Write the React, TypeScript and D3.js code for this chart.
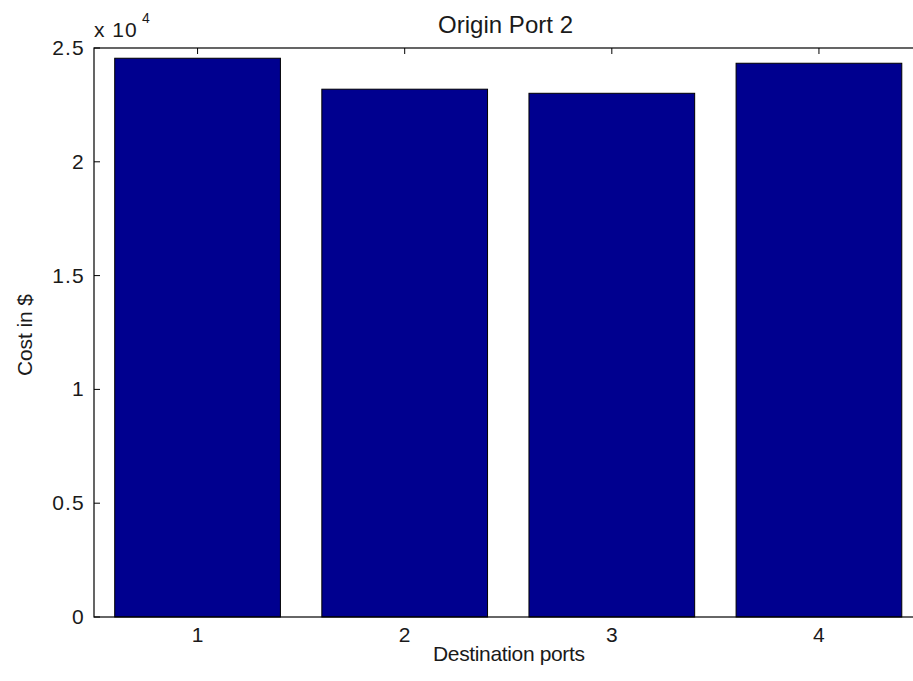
import React from "react";
import * as d3 from "d3";

const categories = [1, 2, 3, 4];
const costs = [24550, 23190, 23010, 24330];
const yTicks = [0, 5000, 10000, 15000, 20000, 25000];
const yTickLabels = ["0", "0.5", "1", "1.5", "2", "2.5"];
const titleText = "Origin Port 2";
const xLabelText = "Destination ports";
const yLabelText = "Cost in $";

const W = 913;
const H = 681;
const FONT = "'Liberation Sans', Arial, sans-serif";

export default function App() {
  const x = d3.scaleLinear().domain([0.5, 4.5]).range([94, 922.5]);
  const y = d3.scaleLinear().domain([0, 25000]).range([617, 48]);
  const barW = 0.8;
  const left = x(0.5);
  const right = x(4.5);
  const top = y(25000);
  const bottom = y(0);
  const tickLen = 6;
  const txt = "#1a1a1a";
  return (
    <svg
      width={W}
      height={H}
      style={{ position: "absolute", left: 0, top: 0, background: "#fff" }}
      fontFamily={FONT}
    >
      <rect x={0} y={0} width={W} height={H} fill="#fff" />
      {/* ticks (under bars) */}
      {yTicks.map((t) => (
        <g key={"yt" + t}>
          <line x1={left} x2={left + tickLen} y1={y(t)} y2={y(t)} stroke="#000" />
          <line x1={right} x2={right - tickLen} y1={y(t)} y2={y(t)} stroke="#000" />
        </g>
      ))}
      {categories.map((c) => (
        <g key={"xt" + c}>
          <line x1={x(c)} x2={x(c)} y1={top} y2={top + tickLen} stroke="#000" />
          <line x1={x(c)} x2={x(c)} y1={bottom} y2={bottom - tickLen} stroke="#000" />
        </g>
      ))}
      {/* bars */}
      {categories.map((c, i) => (
        <rect
          key={"b" + c}
          x={x(c - barW / 2)}
          y={y(costs[i])}
          width={x(c + barW / 2) - x(c - barW / 2)}
          height={y(0) - y(costs[i])}
          fill="#00008F"
          stroke="#000"
          strokeWidth={1}
        />
      ))}
      {/* axes box */}
      <rect
        x={left}
        y={top}
        width={right - left}
        height={bottom - top}
        fill="none"
        stroke="#000"
        strokeWidth={1.2}
      />
      {/* tick labels */}
      {yTicks.map((t, i) => (
        <text
          key={"yl" + t}
          x={left - 9}
          y={y(t) + 7}
          textAnchor="end"
          fontSize={21}
          fill={txt}
          letterSpacing={1.2}
        >
          {yTickLabels[i]}
        </text>
      ))}
      {categories.map((c) => (
        <text key={"xl" + c} x={x(c)} y={642} textAnchor="middle" fontSize={21} fill={txt}>
          {c}
        </text>
      ))}
      {/* exponent */}
      <text x={94} y={37} fontSize={21} fill={txt} letterSpacing={1}>
        x 10
      </text>
      <text x={142} y={23} fontSize={14} fill={txt}>
        4
      </text>
      {/* title & labels */}
      <text
        x={505.5}
        y={33}
        textAnchor="middle"
        fontSize={24}
        fill={txt}
        textLength={135}
        lengthAdjust="spacing"
      >
        {titleText}
      </text>
      <text
        x={509}
        y={661}
        textAnchor="middle"
        fontSize={21}
        fill={txt}
        textLength={152}
        lengthAdjust="spacing"
      >
        {xLabelText}
      </text>
      <text
        transform={`translate(32, 335) rotate(-90)`}
        textAnchor="middle"
        fontSize={21}
        fill={txt}
        textLength={82}
        lengthAdjust="spacing"
      >
        {yLabelText}
      </text>
    </svg>
  );
}
